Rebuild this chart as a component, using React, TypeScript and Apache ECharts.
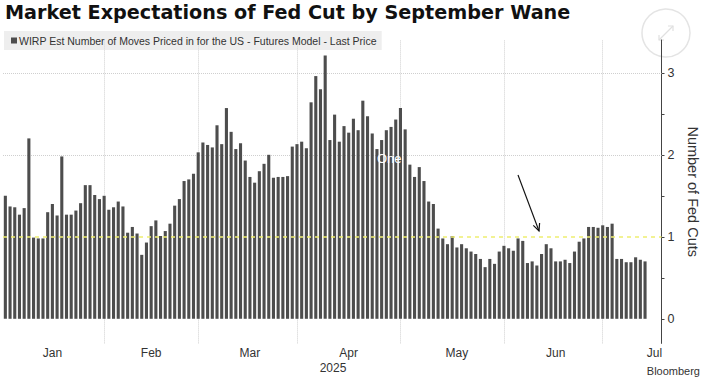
import React, { useEffect, useRef } from "react";
import * as echarts from "echarts";

// ---- data ----
const seriesName =
  "WIRP Est Number of Moves Priced in for the US - Futures Model - Last Price";
const titleText = "Market Expectations of Fed Cut by September Wane";
const axisName = "Number of Fed Cuts";
const yearLabel = "2025";
const sourceLabel = "Bloomberg";

// x axis: weekdays from Jan 2 2025 up to mid July 2025 (data ends Jul 11)
const axisStart = "2025-01-02";
const axisEnd = "2025-07-16";

// values per month (business days)
const janValues = [1.5, 1.37, 1.36, 1.27, 1.35, 2.2, 0.99, 0.98, 0.98, 1.3, 1.4, 1.26, 1.98, 1.27, 1.27, 1.32, 1.41, 1.63, 1.63, 1.51, 1.46, 1.5];
const febValues = [1.33, 1.36, 1.43, 1.37, 1.05, 1.12, 1.04, 0.78, 0.93, 1.13, 1.2, 1.01, 1.07, 1.16, 1.38, 1.46, 1.68, 1.7, 1.77, 2.03];
const marValues = [2.15, 2.12, 2.09, 2.36, 2.13, 2.57, 2.28, 2.07, 2.14, 1.93, 1.73, 1.66, 1.8, 1.89, 2.0, 1.72, 1.73, 1.73, 1.74, 2.1, 2.13];
const aprValues = [2.16, 2.08, 2.64, 2.96, 2.8, 3.21, 2.18, 2.49, 2.16, 2.35, 2.27, 2.44, 2.3, 2.66, 2.47, 2.26, 2.07, 2.18, 2.3, 2.34, 2.43, 2.57];
const mayValues = [2.31, 1.88, 1.73, 1.85, 1.68, 1.43, 1.4, 1.1, 0.98, 0.91, 1.01, 0.87, 0.91, 0.86, 0.82, 0.79, 0.73, 0.63, 0.73, 0.67, 0.82, 0.89];
const junValues = [0.86, 0.83, 0.98, 0.95, 0.68, 0.7, 0.65, 0.79, 0.91, 0.86, 0.7, 0.7, 0.72, 0.68, 0.82, 0.94, 0.98, 1.12, 1.12, 1.11, 1.14];
const julValues = [1.12, 1.16, 0.73, 0.73, 0.69, 0.69, 0.75, 0.72, 0.7];

// x tick labels: placed near mid-month
const monthLabelDates = ["2025-01-16", "2025-02-14", "2025-03-17", "2025-04-15", "2025-05-16", "2025-06-16", "2025-07-15"];
const monthNames = ["Jan", "Feb", "Mar", "Apr", "May", "Jun", "Jul", "Aug", "Sep", "Oct", "Nov", "Dec"];
// vertical gridlines: last trading day of each month
const monthEndDates = ["2025-01-31", "2025-02-28", "2025-03-31", "2025-04-30", "2025-05-30", "2025-06-30"];

// y axis
const yMin = -0.3;
const yMax = 3.4;
const yTickValues = [0, 0.5, 1, 1.5, 2, 2.5, 3];
const yLabelValues = [0, 1, 2, 3];
const yGridValues = [2, 3];
const referenceValue = 1;

const values = [...janValues, ...febValues, ...marValues, ...aprValues, ...mayValues, ...junValues, ...julValues];

function weekdays(start: string, end: string): string[] {
  const out: string[] = [];
  const d = new Date(start + "T00:00:00Z");
  const e = new Date(end + "T00:00:00Z");
  while (d.getTime() <= e.getTime()) {
    const wd = d.getUTCDay();
    if (wd !== 0 && wd !== 6) {
      const y = d.getUTCFullYear();
      const m = String(d.getUTCMonth() + 1).padStart(2, "0");
      const dd = String(d.getUTCDate()).padStart(2, "0");
      out.push(`${y}-${m}-${dd}`);
    }
    d.setUTCDate(d.getUTCDate() + 1);
  }
  return out;
}
const categories = weekdays(axisStart, axisEnd);

const FONT = "'Liberation Sans', Arial, sans-serif";

export default function App() {
  const ref = useRef<HTMLDivElement>(null);
  useEffect(() => {
    document.body.style.margin = "0";
    if (!ref.current) return;
    const chart = echarts.init(ref.current, undefined, { renderer: "svg" });

    // arrow annotation geometry
    const ax1 = 518, ay1 = 175, ax2 = 539, ay2 = 231;

    chart.setOption({
      animation: false,
      backgroundColor: "#ffffff",
      textStyle: { fontFamily: FONT },
      grid: { left: 3, right: 43.5, top: 40, bottom: 34.6, containLabel: false, outerBoundsMode: "none" },
      legend: {
        show: true,
        data: [seriesName],
        left: 4,
        top: 31,
        padding: [4, 5, 4, 7],
        backgroundColor: "rgba(222,222,222,0.5)",
        icon: "rect",
        itemWidth: 6,
        itemHeight: 6,
        selectedMode: false,
        textStyle: { fontFamily: FONT, fontSize: 10.5, color: "#333", padding: [0, 0, 0, -3] },
      },
      xAxis: {
        type: "category",
        data: categories,
        boundaryGap: true,
        axisLine: { show: false },
        axisTick: { show: false },
        splitLine: { show: false },
        axisLabel: {
          interval: (_i: number, v: string) => monthLabelDates.includes(v),
          formatter: (v: string) => monthNames[parseInt(v.slice(5, 7), 10) - 1],
          color: "#333",
          fontSize: 12,
          fontFamily: FONT,
          margin: 4,
        },
      },
      yAxis: {
        type: "value",
        position: "right",
        min: yMin,
        max: yMax,
        axisLine: { show: true, lineStyle: { color: "#444", width: 1 } },
        axisTick: { show: true, length: 3, customValues: yTickValues, lineStyle: { color: "#444" } },
        axisLabel: {
          customValues: yLabelValues,
          color: "#333",
          fontSize: 12.5,
          margin: 6,
          fontFamily: FONT,
          formatter: (v: number) => (Number.isInteger(v) && v >= 0 ? String(v) : ""),
        },
        splitLine: { show: false },
        name: axisName,
        nameLocation: "middle",
        nameRotate: -90,
        nameGap: 24,
        nameTextStyle: { fontSize: 14.5, color: "#333", fontFamily: FONT },
      },
      series: [
        {
          type: "line",
          name: "grid",
          data: [],
          z: 1,
          silent: true,
          markLine: {
            silent: true,
            symbol: ["none", "none"],
            label: { show: false },
            z: 1,
            lineStyle: { color: "#cfcfcf", type: "dotted", width: 1 },
            data: [
              ...monthEndDates.map((d) => ({ xAxis: d })),
              ...yGridValues.map((v) => ({ yAxis: v })),
            ],
          },
        },
        {
          type: "bar",
          name: seriesName,
          data: values,
          barWidth: 3.1,
          z: 2,
          itemStyle: { color: "#4d4d4d" },
          markLine: {
            silent: true,
            symbol: ["none", "none"],
            label: { show: false },
            z: 10,
            lineStyle: { color: "#eeee70", type: [4, 4], width: 1.5 },
            data: [{ yAxis: referenceValue }],
          },
        },
      ],
      graphic: [
        {
          type: "text",
          left: 5,
          top: 3,
          style: { text: titleText, fontFamily: "'DejaVu Sans', sans-serif", fontWeight: "bold", fontSize: 19.2, fill: "#111" },
        },
        {
          type: "text",
          x: 333,
          y: 368,
          style: { text: yearLabel, fontFamily: FONT, fontSize: 12, fill: "#333", align: "center", verticalAlign: "middle" },
        },
        {
          type: "text",
          x: 377,
          y: 158,
          z: 20,
          style: { text: "One", fontFamily: FONT, fontSize: 13, fill: "#ffffff", align: "left", verticalAlign: "middle" },
        },
        {
          type: "line",
          z: 20,
          shape: { x1: ax1, y1: ay1, x2: ax2, y2: ay2 },
          style: { stroke: "#111", lineWidth: 1.2 },
        },
        {
          type: "polyline",
          z: 20,
          shape: { points: [[ax2 + 0.6, ay2 - 8], [ax2, ay2], [ax2 - 5.7, ay2 - 5.6]] },
          style: { stroke: "#111", lineWidth: 1.2, fill: "none" },
        },
        {
          type: "circle",
          z: 0,
          shape: { cx: 666, cy: 33, r: 24 },
          style: { stroke: "#e4e4e4", lineWidth: 1.5, fill: "none" },
        },
        {
          type: "polyline",
          z: 0,
          shape: { points: [[659, 40], [673, 26]] },
          style: { stroke: "#e0e0e0", lineWidth: 1.2, fill: "none" },
        },
        {
          type: "polyline",
          z: 0,
          shape: { points: [[668, 26], [673, 26], [673, 31]] },
          style: { stroke: "#e0e0e0", lineWidth: 1.2, fill: "none" },
        },
        {
          type: "polyline",
          z: 0,
          shape: { points: [[659, 35], [659, 40], [664, 40]] },
          style: { stroke: "#e0e0e0", lineWidth: 1.2, fill: "none" },
        },
        {
          type: "text",
          x: 700,
          y: 365,
          style: { text: sourceLabel, fontFamily: FONT, fontSize: 11, fill: "#333", align: "right", verticalAlign: "top" },
        },
      ],
    });
    return () => chart.dispose();
  }, []);
  return <div ref={ref} style={{ width: 705, height: 378 }} />;
}
